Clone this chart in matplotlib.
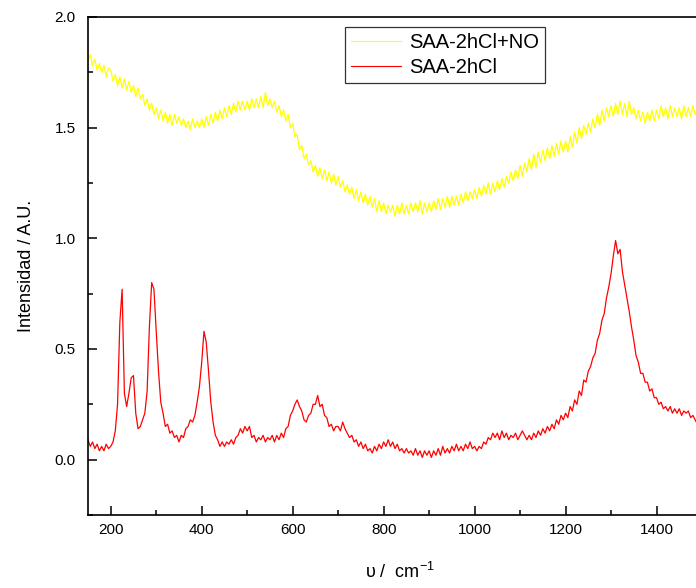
import matplotlib
matplotlib.use('Agg')
import matplotlib.pyplot as plt
from matplotlib.ticker import MultipleLocator

plt.rcParams['font.family'] = ['Liberation Sans', 'DejaVu Sans']
plt.rcParams['mathtext.fontset'] = 'custom'
plt.rcParams['mathtext.rm'] = 'Liberation Sans'
plt.rcParams['mathtext.it'] = 'Liberation Sans:italic'

# raman shift, 150..1490 every 5 cm-1
shift = list(range(150, 1495, 5))

# SAA-2hCl+NO (yellow)
saa_no = [
    1.80, 1.83, 1.78, 1.81, 1.76, 1.79, 1.75, 1.78, 1.73, 1.77,
    1.76, 1.71, 1.74, 1.69, 1.73, 1.68, 1.72, 1.67, 1.71, 1.66,
    1.69, 1.64, 1.68, 1.63, 1.65, 1.60, 1.63, 1.58, 1.61, 1.56,
    1.59, 1.54, 1.58, 1.53, 1.57, 1.52, 1.56, 1.51, 1.56, 1.52,
    1.55, 1.51, 1.54, 1.50, 1.53, 1.49, 1.54, 1.50, 1.53, 1.50,
    1.54, 1.50, 1.55, 1.51, 1.56, 1.52, 1.57, 1.53, 1.58, 1.54,
    1.59, 1.55, 1.60, 1.56, 1.61, 1.57, 1.62, 1.58, 1.62, 1.58,
    1.62, 1.58, 1.63, 1.59, 1.63, 1.59, 1.64, 1.59, 1.66, 1.60,
    1.63, 1.59, 1.62, 1.57, 1.60, 1.55, 1.58, 1.53, 1.56, 1.50,
    1.52, 1.46, 1.47, 1.40, 1.42, 1.36, 1.38, 1.33, 1.35, 1.30,
    1.33, 1.28, 1.32, 1.27, 1.31, 1.26, 1.30, 1.25, 1.29, 1.24,
    1.28, 1.23, 1.26, 1.21, 1.24, 1.20, 1.23, 1.18, 1.22, 1.17,
    1.21, 1.16, 1.20, 1.15, 1.19, 1.14, 1.18, 1.12, 1.17, 1.12,
    1.16, 1.11, 1.15, 1.12, 1.15, 1.10, 1.15, 1.11, 1.16, 1.11,
    1.15, 1.11, 1.16, 1.12, 1.16, 1.12, 1.17, 1.11, 1.16, 1.12,
    1.16, 1.12, 1.17, 1.13, 1.18, 1.13, 1.18, 1.14, 1.19, 1.14,
    1.19, 1.15, 1.19, 1.15, 1.20, 1.16, 1.21, 1.17, 1.21, 1.18,
    1.22, 1.18, 1.23, 1.19, 1.24, 1.20, 1.25, 1.20, 1.25, 1.21,
    1.26, 1.22, 1.27, 1.23, 1.28, 1.25, 1.30, 1.26, 1.31, 1.27,
    1.33, 1.28, 1.34, 1.30, 1.36, 1.31, 1.38, 1.32, 1.39, 1.34,
    1.40, 1.35, 1.41, 1.36, 1.42, 1.37, 1.43, 1.38, 1.44, 1.39,
    1.44, 1.39, 1.46, 1.41, 1.48, 1.43, 1.50, 1.45, 1.51, 1.47,
    1.52, 1.48, 1.54, 1.50, 1.56, 1.51, 1.58, 1.53, 1.59, 1.55,
    1.60, 1.55, 1.61, 1.56, 1.62, 1.56, 1.61, 1.55, 1.62, 1.56,
    1.59, 1.54, 1.58, 1.53, 1.57, 1.52, 1.57, 1.53, 1.58, 1.53,
    1.58, 1.54, 1.60, 1.55, 1.59, 1.54, 1.60, 1.55, 1.59, 1.55,
    1.59, 1.54, 1.60, 1.55, 1.59, 1.55, 1.60, 1.56, 1.58,
]

# SAA-2hCl (red)
saa = [
    0.09, 0.06, 0.08, 0.05, 0.07, 0.04, 0.06, 0.04, 0.07, 0.05,
    0.06, 0.08, 0.13, 0.25, 0.62, 0.77, 0.30, 0.24, 0.30, 0.37,
    0.38, 0.21, 0.14, 0.15, 0.18, 0.21, 0.31, 0.60, 0.80, 0.77,
    0.58, 0.40, 0.26, 0.21, 0.15, 0.16, 0.12, 0.13, 0.10, 0.11,
    0.08, 0.11, 0.10, 0.14, 0.15, 0.18, 0.17, 0.20, 0.26, 0.33,
    0.44, 0.58, 0.53, 0.40, 0.26, 0.17, 0.11, 0.09, 0.06, 0.08,
    0.06, 0.08, 0.07, 0.09, 0.07, 0.10, 0.11, 0.14, 0.12, 0.15,
    0.13, 0.15, 0.10, 0.11, 0.08, 0.10, 0.09, 0.11, 0.08, 0.10,
    0.09, 0.11, 0.08, 0.11, 0.09, 0.12, 0.10, 0.14, 0.15, 0.20,
    0.22, 0.25, 0.27, 0.24, 0.22, 0.18, 0.17, 0.20, 0.21, 0.25,
    0.25, 0.29, 0.24, 0.25, 0.20, 0.19, 0.15, 0.16, 0.13, 0.15,
    0.15, 0.13, 0.17, 0.14, 0.12, 0.10, 0.11, 0.08, 0.09, 0.06,
    0.08, 0.05, 0.07, 0.04, 0.05, 0.03, 0.06, 0.04, 0.07, 0.05,
    0.08, 0.06, 0.09, 0.06, 0.08, 0.05, 0.07, 0.04, 0.05, 0.03,
    0.05, 0.03, 0.04, 0.02, 0.05, 0.02, 0.04, 0.01, 0.04, 0.02,
    0.04, 0.01, 0.04, 0.02, 0.05, 0.02, 0.06, 0.03, 0.05, 0.03,
    0.06, 0.04, 0.07, 0.04, 0.06, 0.04, 0.07, 0.05, 0.08, 0.05,
    0.06, 0.04, 0.06, 0.05, 0.08, 0.07, 0.10, 0.09, 0.12, 0.10,
    0.12, 0.09, 0.13, 0.10, 0.12, 0.09, 0.11, 0.10, 0.12, 0.09,
    0.11, 0.13, 0.11, 0.09, 0.11, 0.09, 0.12, 0.10, 0.13, 0.11,
    0.14, 0.12, 0.15, 0.13, 0.16, 0.14, 0.18, 0.16, 0.20, 0.18,
    0.21, 0.19, 0.24, 0.22, 0.27, 0.25, 0.31, 0.29, 0.36, 0.35,
    0.40, 0.42, 0.46, 0.48, 0.54, 0.57, 0.63, 0.66, 0.73, 0.78,
    0.84, 0.92, 0.99, 0.93, 0.95, 0.85, 0.79, 0.73, 0.67, 0.60,
    0.54, 0.47, 0.44, 0.39, 0.39, 0.35, 0.35, 0.31, 0.32, 0.28,
    0.28, 0.25, 0.26, 0.23, 0.24, 0.22, 0.24, 0.21, 0.23, 0.21,
    0.23, 0.20, 0.22, 0.21, 0.22, 0.19, 0.20, 0.18, 0.16,
]

fig = plt.figure(figsize=(6.96, 5.88), dpi=100)
ax = fig.add_axes([88 / 696, 73 / 588, 614 / 696, 498 / 588])

ax.plot(shift, saa_no, color='#ffff00', lw=0.9, label='SAA-2hCl+NO')
ax.plot(shift, saa, color='#ff0000', lw=0.9, label='SAA-2hCl')

ax.set_xlim(150, 1500)
ax.set_ylim(-0.25, 2.0)
ax.xaxis.set_major_locator(MultipleLocator(200))
ax.xaxis.set_minor_locator(MultipleLocator(100))
ax.yaxis.set_minor_locator(MultipleLocator(0.25))
ax.set_yticks([0.0, 0.5, 1.0, 1.5, 2.0])
ax.set_yticklabels(['0.0', '0.5', '1.0', '1.5', '2.0'])

ax.tick_params(which='both', direction='in', labelsize=11, width=1.1)
ax.tick_params(which='major', length=6.5)
ax.tick_params(which='minor', length=3.5)
ax.tick_params(axis='y', pad=9)
ax.tick_params(axis='x', pad=6)
for sp in ax.spines.values():
    sp.set_linewidth(1.2)

ax.set_ylabel('Intensidad / A.U.', fontsize=13, labelpad=14)
ax.set_xlabel('υ /  cm$^{-1}$', fontsize=13)
ax.xaxis.set_label_coords((400 - 88) / 614, -0.095)

leg = ax.legend(loc='upper left', bbox_to_anchor=(345 / 696, 1 - 27 / 588),
                bbox_transform=fig.transFigure, fontsize=14.5, frameon=True,
                fancybox=False, handlelength=2.5, handletextpad=0.4,
                borderpad=0.3, labelspacing=0.3, borderaxespad=0)
leg.get_frame().set_edgecolor('black')
leg.get_frame().set_linewidth(0.9)
for ln in leg.get_lines():
    ln.set_linewidth(0.8)

fig.savefig('out.png', dpi=100)
